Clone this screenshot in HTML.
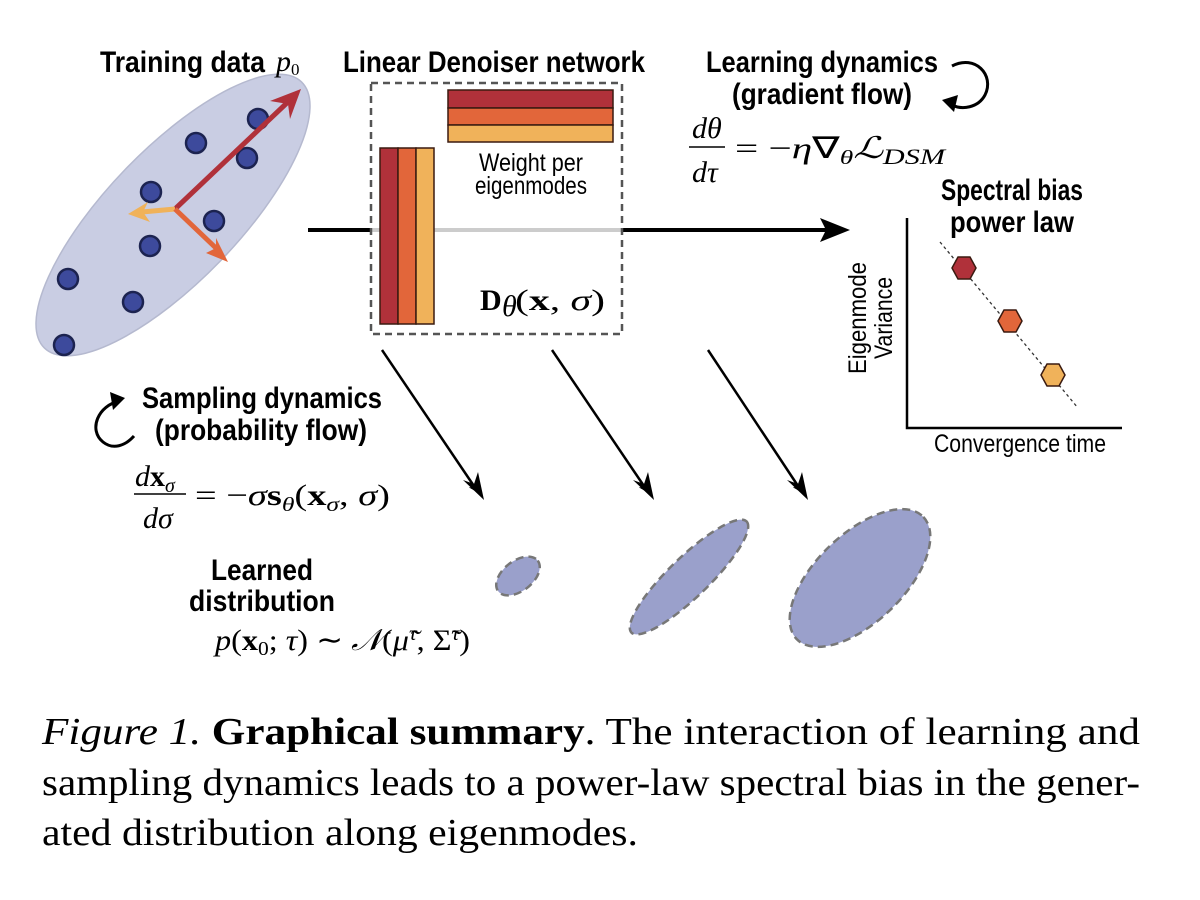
<!DOCTYPE html>
<html><head><meta charset="utf-8"><style>
html,body{margin:0;padding:0;background:#fff;width:1200px;height:900px;overflow:hidden}
svg{display:block}
.t{font-family:"Liberation Sans Narrow","Liberation Sans",sans-serif;font-weight:bold;font-size:30px;fill:#000}
.n{font-family:"Liberation Sans Narrow","Liberation Sans",sans-serif;font-size:25px;fill:#000}
.m{font-family:"Liberation Serif",serif;font-size:30px;fill:#000}
.mi{font-family:"Liberation Serif",serif;font-style:italic;font-size:30px;fill:#000}
.c{font-family:"Liberation Serif",serif;font-size:38px;fill:#000}
</style></head><body>
<svg width="1200" height="900" viewBox="0 0 1200 900">
<defs>
<marker id="ah" markerWidth="10" markerHeight="10" refX="9" refY="5" orient="auto" markerUnits="userSpaceOnUse"><path d="M0,0 L10,5 L0,10 L3,5Z" fill="#000"/></marker>
</defs>
<!-- training data -->
<ellipse cx="173" cy="215" rx="185" ry="66" transform="rotate(-46 173 215)" fill="#c9cde3" stroke="#b5b9cf" stroke-width="1.5"/>
<g fill="#3d4a9c" stroke="#1c2350" stroke-width="2.5">
<circle cx="258" cy="119" r="10"/><circle cx="196" cy="143" r="10"/><circle cx="247" cy="158" r="10"/>
<circle cx="151" cy="192" r="10"/><circle cx="214" cy="221" r="10"/><circle cx="150" cy="246" r="10"/>
<circle cx="68" cy="279" r="10"/><circle cx="133" cy="302" r="10"/><circle cx="64" cy="345" r="10"/>
</g>
<line x1="175" y1="209" x2="290" y2="100" stroke="#b0313a" stroke-width="5"/>
<path d="M301,89 L270,101 L288,104 L290,119Z" fill="#b0313a"/>
<line x1="175" y1="209" x2="142" y2="212" stroke="#f0b25a" stroke-width="5"/>
<path d="M128,214 L148,202 L143,212 L150,222Z" fill="#f0b25a"/>
<line x1="175" y1="209" x2="218" y2="250" stroke="#e2663a" stroke-width="5"/>
<path d="M228,262 L206,253 L216,248 L216,238Z" fill="#e2663a"/>
<text class="t" x="100" y="72" textLength="165" lengthAdjust="spacingAndGlyphs">Training data</text>
<text class="mi" x="276" y="71" font-size="24">p<tspan font-style="normal" font-size="17" dy="4">0</tspan></text>
<!-- denoiser -->
<text class="t" x="343" y="72" textLength="302" lengthAdjust="spacingAndGlyphs">Linear Denoiser network</text>
<line x1="308" y1="230" x2="372" y2="230" stroke="#000" stroke-width="4"/>
<line x1="372" y1="230" x2="622" y2="230" stroke="#ccc" stroke-width="4"/>
<line x1="622" y1="230" x2="838" y2="230" stroke="#000" stroke-width="4"/>
<path d="M850,230 L820,218 L826,230 L820,242Z" fill="#000"/>
<rect x="371" y="83" width="251" height="251" fill="none" stroke="#555" stroke-width="2.5" stroke-dasharray="7,5"/>
<g stroke="#3a1a10" stroke-width="1.5">
<rect x="448" y="90" width="165" height="18" fill="#b0313a"/>
<rect x="448" y="108" width="165" height="17" fill="#e2663a"/>
<rect x="448" y="125" width="165" height="17" fill="#f0b25a"/>
<rect x="380" y="148" width="18" height="176" fill="#b0313a"/>
<rect x="398" y="148" width="18" height="176" fill="#e2663a"/>
<rect x="416" y="148" width="18" height="176" fill="#f0b25a"/>
</g>
<text class="n" x="531" y="171" text-anchor="middle" textLength="104" lengthAdjust="spacingAndGlyphs">Weight per</text>
<text class="n" x="531" y="194" text-anchor="middle" textLength="112" lengthAdjust="spacingAndGlyphs">eigenmodes</text>
<text class="m" x="480" y="310" font-weight="bold">D</text>
<text class="mi" x="502" y="316" font-size="20">θ</text>
<text class="m" x="515" y="310" textLength="90" lengthAdjust="spacingAndGlyphs">(<tspan font-weight="bold">x</tspan>, <tspan font-style="italic">σ</tspan>)</text>
<!-- learning dynamics -->
<text class="t" x="822" y="72" text-anchor="middle" textLength="232" lengthAdjust="spacingAndGlyphs">Learning dynamics</text>
<text class="t" x="822" y="104" text-anchor="middle" textLength="180" lengthAdjust="spacingAndGlyphs">(gradient flow)</text>
<path d="M952,66 C975,54 995,75 985,95 C978,108 962,110 952,105" fill="none" stroke="#000" stroke-width="3"/>
<path d="M942,100 L958,95 L954,112Z" fill="#000"/>
<text class="mi" x="692" y="138">dθ</text>
<line x1="689" y1="147" x2="725" y2="147" stroke="#000" stroke-width="1.5"/>
<text class="mi" x="692" y="182">dτ</text>
<text class="m" x="735" y="158" textLength="210" lengthAdjust="spacingAndGlyphs">= −<tspan font-style="italic">η</tspan>∇<tspan font-style="italic" font-size="20" dy="6">θ</tspan><tspan font-style="italic" dy="-6">ℒ</tspan><tspan font-style="italic" font-size="22" dy="6">DSM</tspan></text>
<!-- spectral -->
<text class="t" x="1012" y="200" text-anchor="middle" textLength="142" lengthAdjust="spacingAndGlyphs">Spectral bias</text>
<text class="t" x="1012" y="232" text-anchor="middle" textLength="124" lengthAdjust="spacingAndGlyphs">power law</text>
<polyline points="907,218 907,428 1122,428" fill="none" stroke="#000" stroke-width="2.5"/>
<line x1="940" y1="242" x2="1078" y2="408" stroke="#333" stroke-width="1.3" stroke-dasharray="3,3"/>
<g stroke="#3a1a10" stroke-width="1.5">
<polygon points="952,268 958,257 970,257 976,268 970,279 958,279" fill="#b0313a"/>
<polygon points="998,321 1004,310 1016,310 1022,321 1016,332 1004,332" fill="#e2663a"/>
<polygon points="1041,375 1047,364 1059,364 1065,375 1059,386 1047,386" fill="#f0b25a"/>
</g>
<text class="n" transform="translate(866,318) rotate(-90)" text-anchor="middle" textLength="112" lengthAdjust="spacingAndGlyphs">Eigenmode</text>
<text class="n" transform="translate(892,318) rotate(-90)" text-anchor="middle" textLength="82" lengthAdjust="spacingAndGlyphs">Variance</text>
<text class="n" x="1020" y="452" text-anchor="middle" textLength="172" lengthAdjust="spacingAndGlyphs">Convergence time</text>
<!-- sampling -->
<text class="t" x="142" y="408" textLength="240" lengthAdjust="spacingAndGlyphs">Sampling dynamics</text>
<text class="t" x="155" y="440" textLength="212" lengthAdjust="spacingAndGlyphs">(probability flow)</text>
<path d="M120,401 C98,405 88,430 103,442 C113,450 125,446 134,436" fill="none" stroke="#000" stroke-width="3"/>
<path d="M125,398 L110,392 L113,410Z" fill="#000"/>
<text class="mi" x="135" y="486">d<tspan font-weight="bold" font-style="normal">x</tspan><tspan font-size="20" dy="6">σ</tspan></text>
<line x1="134" y1="494" x2="186" y2="494" stroke="#000" stroke-width="1.5"/>
<text class="mi" x="143" y="528">dσ</text>
<text class="m" x="195" y="505" textLength="195" lengthAdjust="spacingAndGlyphs">= −<tspan font-style="italic">σ</tspan><tspan font-weight="bold">s</tspan><tspan font-style="italic" font-size="20" dy="6">θ</tspan><tspan dy="-6">(</tspan><tspan font-weight="bold">x</tspan><tspan font-style="italic" font-size="20" dy="6">σ</tspan><tspan dy="-6">, </tspan><tspan font-style="italic">σ</tspan>)</text>
<!-- learned -->
<text class="t" x="262" y="580" text-anchor="middle" textLength="102" lengthAdjust="spacingAndGlyphs">Learned</text>
<text class="t" x="262" y="611" text-anchor="middle" textLength="146" lengthAdjust="spacingAndGlyphs">distribution</text>
<text class="m" x="215" y="650" textLength="255" lengthAdjust="spacingAndGlyphs"><tspan font-style="italic">p</tspan>(<tspan font-weight="bold">x</tspan><tspan font-size="20" dy="5">0</tspan><tspan dy="-5">; </tspan><tspan font-style="italic">τ</tspan>) ∼ <tspan font-style="italic">𝒩</tspan>(<tspan font-style="italic">μ̃</tspan><tspan font-style="italic" font-size="20" dy="-10">τ</tspan><tspan dy="10">, Σ̃</tspan><tspan font-style="italic" font-size="20" dy="-10">τ</tspan><tspan dy="10">)</tspan></text>
<!-- arrows down -->
<g stroke="#000" stroke-width="2.5" marker-end="url(#ah)">
<line x1="382" y1="350" x2="478" y2="492"/>
<line x1="552" y1="350" x2="648" y2="492"/>
<line x1="708" y1="350" x2="802" y2="492"/>
</g>
<path d="M484,500 L463,480 L474,484 L478,472Z" fill="#000"/>
<path d="M654,500 L633,480 L644,484 L648,472Z" fill="#000"/>
<path d="M808,500 L787,480 L798,484 L802,472Z" fill="#000"/>
<g fill="#9aa0cb" stroke="#777" stroke-width="2.5" stroke-dasharray="8,5">
<ellipse cx="518" cy="576" rx="25" ry="15" transform="rotate(-38 518 576)"/>
<ellipse cx="689" cy="577" rx="80" ry="20" transform="rotate(-44 689 577)"/>
<ellipse cx="860" cy="578" rx="88" ry="44" transform="rotate(-44 860 578)"/>
</g>
<!-- caption -->
<text class="c" x="42" y="744" textLength="1098" lengthAdjust="spacingAndGlyphs"><tspan font-style="italic">Figure 1.</tspan> <tspan font-weight="bold">Graphical summary</tspan>.  The interaction of learning and</text>
<text class="c" x="42" y="795" textLength="1098" lengthAdjust="spacingAndGlyphs">sampling dynamics leads to a power-law spectral bias in the gener-</text>
<text class="c" x="42" y="845" textLength="596" lengthAdjust="spacingAndGlyphs">ated distribution along eigenmodes.</text>
</svg>
</body></html>
